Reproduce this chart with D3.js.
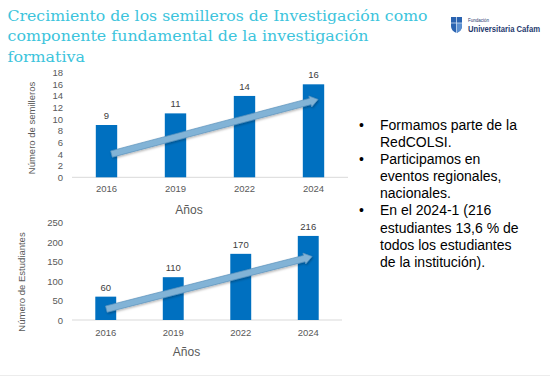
<!DOCTYPE html>
<html>
<head>
<meta charset="utf-8">
<script src="https://cdn.jsdelivr.net/npm/d3@7"></script>
<style>
  html, body { margin: 0; padding: 0; background: #fff; }
  svg { display: block; }
</style>
</head>
<body>
<div id="slide"></div>
<script>
// data
const years = ['2016', '2019', '2022', '2024'];
const semilleros = [9, 11, 14, 16];
const estudiantes = [60, 110, 170, 216];
const semillerosTicks = [0, 2, 4, 6, 8, 10, 12, 14, 16, 18];
const estudiantesTicks = [0, 50, 100, 150, 200, 250];
// trend arrows (start / end value on each chart)
const semillerosTrend = [4, 13.4];
const estudiantesTrend = [28, 163];

const titleLines = [
    'Crecimiento de los semilleros de Investigación como',
    'componente fundamental de la investigación',
    'formativa'
];
const bullets = [
    ['Formamos parte de la', 'RedCOLSI.'],
    ['Participamos en', 'eventos regionales,', 'nacionales.'],
    ['En el 2024-1 (216', 'estudiantes 13,6 % de', 'todos los estudiantes', 'de la institución).']
];

const width = 550;
const height = 376;
const barColor = '#0070c0';
const axisGrey = '#595959';
const sans = 'Liberation Sans, Arial, sans-serif';

const svg = d3.select('#slide')
    .append('svg')
    .attr('width', width)
    .attr('height', height);

const defs = svg.append('defs');
const shadow = defs.append('filter')
    .attr('id', 'arrowShadow')
    .attr('x', '-10%').attr('y', '-50%')
    .attr('width', '120%').attr('height', '200%');
shadow.append('feDropShadow')
    .attr('dx', 0.8).attr('dy', 1.2)
    .attr('stdDeviation', 0.8)
    .attr('flood-color', '#000')
    .attr('flood-opacity', 0.3);

// Title
const titleWidths = [420, 361, 77.5];
svg.append('g')
    .selectAll('text')
    .data(titleLines)
    .join('text')
      .attr('x', 7.5)
      .attr('y', (d, i) => 21 + i * 20.3)
      .attr('textLength', (d, i) => titleWidths[i])
      .attr('lengthAdjust', 'spacingAndGlyphs')
      .attr('font-family', 'DejaVu Serif, serif')
      .attr('font-size', 14.5)
      .attr('fill', '#3cc4dc')
      .text(d => d);

// Logo
const logo = svg.append('g').attr('transform', 'translate(451,17)');
logo.append('path')
    .attr('d', 'M0,0 H11 V9 Q11,14 5.5,16 Q0,14 0,9 Z')
    .attr('fill', '#2a63b0');
logo.append('path')
    .attr('d', 'M5.5,6 H11 V9 Q11,14 5.5,16 Z')
    .attr('fill', '#5b8fd0');
logo.append('path')
    .attr('d', 'M5.5,0 V16 M0,6 H11')
    .attr('stroke', '#cfe0f4')
    .attr('stroke-width', 0.8);
logo.append('text')
    .attr('x', 17).attr('y', 5)
    .attr('font-family', sans)
    .attr('font-size', 4.5)
    .attr('fill', '#1f3a6e')
    .text('Fundación');
logo.append('text')
    .attr('x', 17).attr('y', 14.5)
    .attr('textLength', 72)
    .attr('lengthAdjust', 'spacingAndGlyphs')
    .attr('font-family', sans)
    .attr('font-size', 8.5)
    .attr('font-weight', 'bold')
    .attr('fill', '#1f3a6e')
    .text('Universitaria Cafam');

function arrowPath(x0, y0, x1, y1) {
    const dx = x1 - x0, dy = y1 - y0;
    const len = Math.hypot(dx, dy);
    const ux = dx / len, uy = dy / len;
    const nx = -uy, ny = ux;
    const shaft = 3.2, head = 5.6, headLen = 8;
    const bx = x1 - ux * headLen, by = y1 - uy * headLen;
    const pts = [
        [x0 + nx * shaft, y0 + ny * shaft],
        [bx + nx * shaft, by + ny * shaft],
        [bx + nx * head, by + ny * head],
        [x1, y1],
        [bx - nx * head, by - ny * head],
        [bx - nx * shaft, by - ny * shaft],
        [x0 - nx * shaft, y0 - ny * shaft]
    ];
    return 'M' + pts.map(p => p.join(',')).join('L') + 'Z';
}

function barChart(cfg) {
    const g = svg.append('g');

    const x = d3.scaleBand()
        .domain(years)
        .range(cfg.xRange)
        .paddingInner(0.69)
        .paddingOuter(0.345);

    const y = d3.scaleLinear()
        .domain(d3.extent(cfg.ticks))
        .range(cfg.yRange);

    // baseline
    g.append('line')
        .attr('x1', cfg.xRange[0]).attr('x2', cfg.xRange[1])
        .attr('y1', y(0)).attr('y2', y(0))
        .attr('stroke', '#d9d9d9')
        .attr('stroke-width', 1);

    // y axis
    const yAxis = d3.axisLeft(y)
        .tickValues(cfg.ticks)
        .tickSize(0)
        .tickPadding(0);
    g.append('g')
        .attr('transform', `translate(${cfg.xRange[0] - 9},0)`)
        .call(yAxis)
        .call(s => s.select('.domain').remove())
        .call(s => s.selectAll('text')
            .attr('font-family', sans)
            .attr('font-size', 9.5)
            .attr('fill', axisGrey));

    // x axis
    const xAxis = d3.axisBottom(x).tickSize(0).tickPadding(0);
    g.append('g')
        .attr('transform', `translate(0,${cfg.xLabelY})`)
        .call(xAxis)
        .call(s => s.select('.domain').remove())
        .call(s => s.selectAll('text')
            .attr('dy', '0.35em')
            .attr('font-family', sans)
            .attr('font-size', 9.5)
            .attr('fill', axisGrey));

    // bars
    g.append('g')
        .selectAll('rect')
        .data(cfg.values)
        .join('rect')
          .attr('x', (d, i) => x(years[i]))
          .attr('y', d => y(d))
          .attr('width', x.bandwidth())
          .attr('height', d => y(0) - y(d))
          .attr('fill', barColor);

    // value labels
    g.append('g')
        .selectAll('text')
        .data(cfg.values)
        .join('text')
          .attr('x', (d, i) => x(years[i]) + x.bandwidth() / 2)
          .attr('y', d => y(d) - 6)
          .attr('text-anchor', 'middle')
          .attr('font-family', sans)
          .attr('font-size', 9.5)
          .attr('fill', '#404040')
          .text(d => d);

    // axis titles
    g.append('text')
        .attr('x', cfg.xTitle[0]).attr('y', cfg.xTitle[1])
        .attr('dy', '0.35em')
        .attr('text-anchor', 'middle')
        .attr('font-family', sans)
        .attr('font-size', 12)
        .attr('fill', axisGrey)
        .text('Años');

    g.append('text')
        .attr('transform', `translate(${cfg.yTitle[0]},${cfg.yTitle[1]}) rotate(-90)`)
        .attr('dy', '0.35em')
        .attr('text-anchor', 'middle')
        .attr('font-family', sans)
        .attr('font-size', 9.5)
        .attr('fill', axisGrey)
        .text(cfg.yLabel);

    // trend arrow
    const c0 = x(years[0]) + x.bandwidth() / 2 + cfg.arrowShift[0];
    const c1 = x(years[years.length - 1]) + x.bandwidth() / 2 + cfg.arrowShift[1];
    g.append('path')
        .attr('d', arrowPath(c0, y(cfg.trend[0]), c1, y(cfg.trend[1])))
        .attr('fill', '#82b3d6')
        .attr('stroke', '#5d93bd')
        .attr('stroke-width', 0.7)
        .attr('filter', 'url(#arrowShadow)');
}

barChart({
    values: semilleros,
    ticks: semillerosTicks,
    trend: semillerosTrend,
    xRange: [72, 348],
    yRange: [177.3, 72.7],
    xLabelY: 188.5,
    xTitle: [189, 210],
    yTitle: [32, 128],
    yLabel: 'Número de semilleros',
    arrowShift: [5, 4.5]
});

barChart({
    values: estudiantes,
    ticks: estudiantesTicks,
    trend: estudiantesTrend,
    xRange: [72, 342],
    yRange: [320, 222.7],
    xLabelY: 333,
    xTitle: [186.5, 352],
    yTitle: [22, 282],
    yLabel: 'Número de Estudiantes',
    arrowShift: [0.6, 3.8]
});

// Bullet list
let lineIdx = 0;
const list = svg.append('g');
bullets.forEach(item => {
    list.append('text')
        .attr('x', 361.5)
        .attr('y', 125 + lineIdx * 17.1)
        .attr('dy', '0.35em')
        .attr('text-anchor', 'middle')
        .attr('font-family', sans)
        .attr('font-size', 14)
        .attr('fill', '#000')
        .text('•');
    item.forEach(line => {
        list.append('text')
            .attr('x', 380)
            .attr('y', 125 + lineIdx * 17.1)
            .attr('dy', '0.35em')
            .attr('font-family', sans)
            .attr('font-size', 14)
            .attr('fill', '#000')
            .text(line);
        lineIdx++;
    });
});

// slide bottom edge
svg.append('line')
    .attr('x1', 0).attr('x2', width)
    .attr('y1', 375.5).attr('y2', 375.5)
    .attr('stroke', '#ececec');
</script>
</body>
</html>
